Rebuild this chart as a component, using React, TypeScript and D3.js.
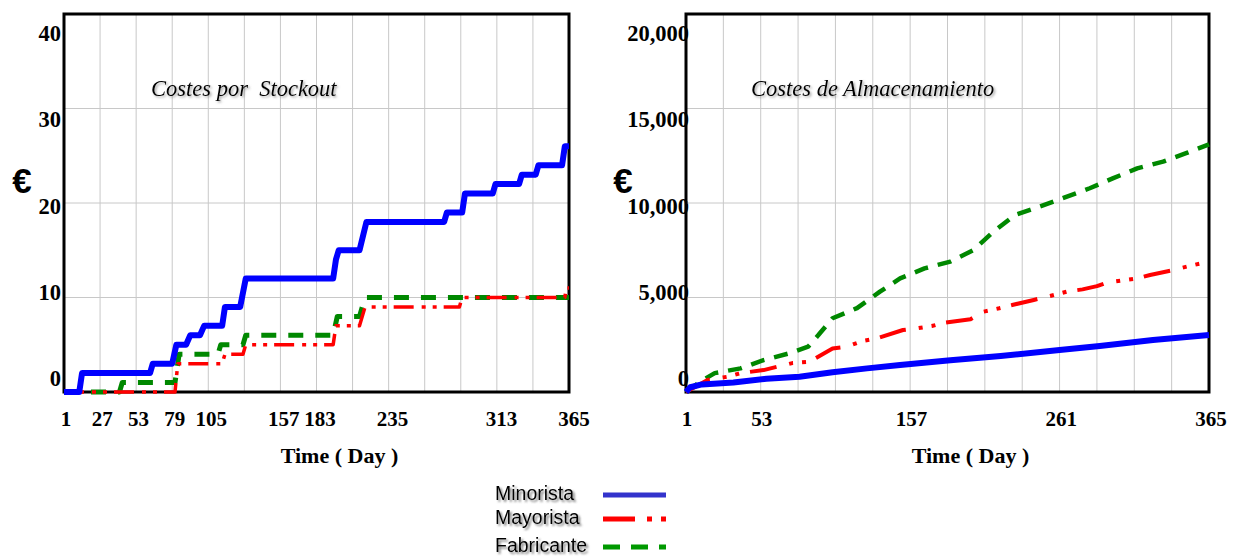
import React, { useEffect, useRef } from 'react';
import * as d3 from 'd3';

// stepwise stockout costs [day, euros]
const minoristaStockout: [number, number][] = [
  [1, 0], [12, 0], [14, 2], [63, 2], [65, 3], [79, 3], [82, 5], [89, 5], [92, 6], [99, 6], [102, 7],
  [115, 7], [117, 9], [128, 9], [132, 12], [195, 12], [197, 14], [199, 15], [214, 15], [219, 18],
  [275, 18], [277, 19], [288, 19], [290, 21], [310, 21], [312, 22], [329, 22], [331, 23], [341, 23],
  [343, 24], [360, 24], [362, 26], [365, 26],
];
const mayoristaStockout: [number, number][] = [
  [1, 0], [81, 0], [83, 3], [115, 3], [117, 4], [130, 4], [132, 5], [195, 5], [197, 7], [214, 7],
  [218, 9], [286, 9], [288, 10], [362, 10], [363, 11], [365, 11],
];
const fabricanteStockout: [number, number][] = [
  [1, 0], [41, 0], [43, 1], [81, 1], [84, 4], [112, 4], [114, 5], [130, 5], [132, 6], [195, 6],
  [198, 8], [214, 8], [218, 10], [365, 10],
];

// cumulative storage costs [day, euros]
const minoristaStorage: [number, number][] = [
  [1, 0], [4, 250], [12, 400], [34, 500], [57, 700], [80, 810], [103, 1050], [127, 1250], [150, 1430],
  [185, 1680], [220, 1900], [261, 2220], [289, 2430], [326, 2750], [365, 3020],
];
const mayoristaStorage: [number, number][] = [
  [1, 0], [16, 640], [30, 810], [39, 1000], [55, 1160], [75, 1530], [87, 1600], [103, 2300], [113, 2400],
  [124, 2700], [134, 2840], [152, 3280], [162, 3370], [172, 3490], [181, 3670], [199, 3850], [208, 4250],
  [219, 4430], [228, 4600], [243, 4870], [257, 5130], [266, 5310], [277, 5430], [287, 5600], [294, 5790],
  [315, 6010], [324, 6190], [340, 6450], [352, 6680], [365, 6900],
];
const fabricanteStorage: [number, number][] = [
  [1, 0], [11, 550], [21, 1000], [39, 1250], [55, 1690], [73, 2050], [86, 2400], [93, 3000], [103, 3900],
  [120, 4440], [136, 5310], [150, 6010], [167, 6540], [185, 6900], [201, 7510], [215, 8480], [230, 9370],
  [247, 9810], [263, 10250], [282, 10780], [298, 11300], [315, 11830], [333, 12190], [350, 12660], [365, 13100],
];

const seriesNames = ['Minorista', 'Mayorista', 'Fabricante'];
const stockoutTicks = [0, 10, 20, 30, 40];
const stockoutDayLabels = [1, 27, 53, 79, 105, 157, 183, 235, 313, 365];
const storageTicks = [0, 5000, 10000, 15000, 20000];
const storageDayLabels = [1, 53, 157, 261, 365];
const gridDays = [1, 27, 53, 79, 105, 131, 157, 183, 209, 235, 261, 287, 313, 339, 365];

// dash per panel: [stockout, storage]
const lineStyles = [
  { color: '#0000ff', width: [6, 6], dash: [null, null] as (string | null)[], legendColor: '#3333cc', legendDash: null as string | null },
  { color: '#ff0000', width: [3.5, 4], dash: ['20 8 4 7 4 7', '27 13 4 9 4 11'], legendColor: '#ff0000', legendDash: '32 12 5 9 5 100' },
  { color: '#008800', width: [5, 4.5], dash: ['15 12', '14 10'], legendColor: '#009900', legendDash: '17 11' },
];

const serif = '"Liberation Serif", "Times New Roman", serif';
const sans = '"Liberation Sans", Arial, sans-serif';

const panels = [
  {
    left: 64, right: 569, top: 14, bottom: 392, yMax: 40, ticks: stockoutTicks, dayLabels: stockoutDayLabels,
    labelEnd: 61, dayLabelRange: [66, 574], euroX: 22, title: 'Costes por  Stockout', titleX: 151,
    data: [minoristaStockout, mayoristaStockout, fabricanteStockout],
  },
  {
    left: 686, right: 1209, top: 14, bottom: 392, yMax: 20000, ticks: storageTicks, dayLabels: storageDayLabels,
    labelEnd: 689, dayLabelRange: [687, 1211], euroX: 623, title: 'Costes de Almacenamiento', titleX: 751,
    data: [minoristaStorage, mayoristaStorage, fabricanteStorage],
  },
];

const App: React.FC = () => {
  const svgRef = useRef<SVGSVGElement | null>(null);

  useEffect(() => {
    const svg = d3.select(svgRef.current);
    svg.selectAll('*').remove();

    const defs = svg.append('defs');
    defs.append('filter').attr('id', 'shadow').attr('x', '-10%').attr('y', '-20%').attr('width', '130%').attr('height', '150%')
      .append('feDropShadow').attr('dx', 1.5).attr('dy', 1.5).attr('stdDeviation', 0.8)
      .attr('flood-color', '#666').attr('flood-opacity', 0.6);
    defs.append('filter').attr('id', 'legendShadow').attr('x', '-10%').attr('y', '-20%').attr('width', '130%').attr('height', '150%')
      .append('feDropShadow').attr('dx', 2).attr('dy', 2).attr('stdDeviation', 1)
      .attr('flood-color', '#555').attr('flood-opacity', 0.75);

    panels.forEach((p, pi) => {
      const x = d3.scaleLinear().domain([1, 365]).range([p.left, p.right]);
      const y = d3.scaleLinear().domain([0, p.yMax]).range([p.bottom, p.top]);
      const yLabel = d3.scaleLinear().domain([0, p.yMax]).range([p.bottom - 14, p.top + 19]);
      const xLabel = d3.scaleLinear().domain([1, 365]).range(p.dayLabelRange);
      const g = svg.append('g');

      // y tick labels
      g.append('g').selectAll('text').data(p.ticks).join('text')
        .attr('x', p.labelEnd).attr('y', d => yLabel(d) + 8)
        .attr('text-anchor', 'end')
        .attr('font-family', serif).attr('font-weight', 'bold').attr('font-size', 22.5)
        .text(d => d3.format(',')(d));

      // grid
      g.append('g').selectAll('line').data(gridDays).join('line')
        .attr('x1', d => x(d)).attr('x2', d => x(d))
        .attr('y1', p.top).attr('y2', p.bottom)
        .attr('stroke', '#c8c8c8').attr('stroke-width', 1);
      g.append('g').selectAll('line').data(p.ticks).join('line')
        .attr('x1', p.left).attr('x2', p.right)
        .attr('y1', d => y(d)).attr('y2', d => y(d))
        .attr('stroke', '#c8c8c8').attr('stroke-width', 1);

      // frame
      g.append('rect')
        .attr('x', p.left).attr('y', p.top)
        .attr('width', p.right - p.left).attr('height', p.bottom - p.top)
        .attr('fill', 'none').attr('stroke', '#000').attr('stroke-width', 3);

      // x tick labels
      g.append('g').selectAll('text').data(p.dayLabels).join('text')
        .attr('x', d => xLabel(d)).attr('y', 426)
        .attr('text-anchor', 'middle')
        .attr('font-family', serif).attr('font-weight', 'bold').attr('font-size', 21)
        .text(d => d);

      g.append('text')
        .attr('x', (p.left + p.right) / 2 + 23).attr('y', 463)
        .attr('text-anchor', 'middle')
        .attr('font-family', serif).attr('font-weight', 'bold').attr('font-size', 22)
        .text('Time ( Day )');

      g.append('text')
        .attr('x', p.euroX).attr('y', 193)
        .attr('text-anchor', 'middle')
        .attr('font-family', sans).attr('font-weight', 'bold').attr('font-size', 35)
        .text('€');

      g.append('text')
        .attr('x', p.titleX).attr('y', 96)
        .attr('font-family', serif).attr('font-style', 'italic').attr('font-size', 22.5)
        .style('white-space', 'pre')
        .attr('filter', 'url(#shadow)')
        .text(p.title);

      const line = d3.line<[number, number]>().x(d => x(d[0])).y(d => y(d[1]));
      // draw bottom series first so the blue sits on top
      [2, 1, 0].forEach(i => {
        const s = lineStyles[i];
        g.append('path')
          .attr('d', line(p.data[i]))
          .attr('fill', 'none')
          .attr('stroke', s.color)
          .attr('stroke-width', s.width[pi])
          .attr('stroke-linejoin', 'round')
          .attr('stroke-dasharray', s.dash[pi]);
      });
    });

    // legend
    const legendY = [500, 524, 552];
    const legend = svg.append('g');
    seriesNames.forEach((name, i) => {
      const s = lineStyles[i];
      legend.append('text')
        .attr('x', 495).attr('y', legendY[i])
        .attr('font-family', sans).attr('font-size', 19.5)
        .attr('filter', 'url(#legendShadow)')
        .text(name);
      legend.append('line')
        .attr('x1', 603).attr('x2', 666)
        .attr('y1', legendY[i] - 5).attr('y2', legendY[i] - 5)
        .attr('stroke', s.legendColor).attr('stroke-width', 5)
        .attr('stroke-dasharray', s.legendDash);
    });
  }, []);

  return (
    <svg
      ref={svgRef}
      width={1238}
      height={559}
      style={{ position: 'absolute', left: 0, top: 0, background: '#fff' }}
    />
  );
};

export default App;
